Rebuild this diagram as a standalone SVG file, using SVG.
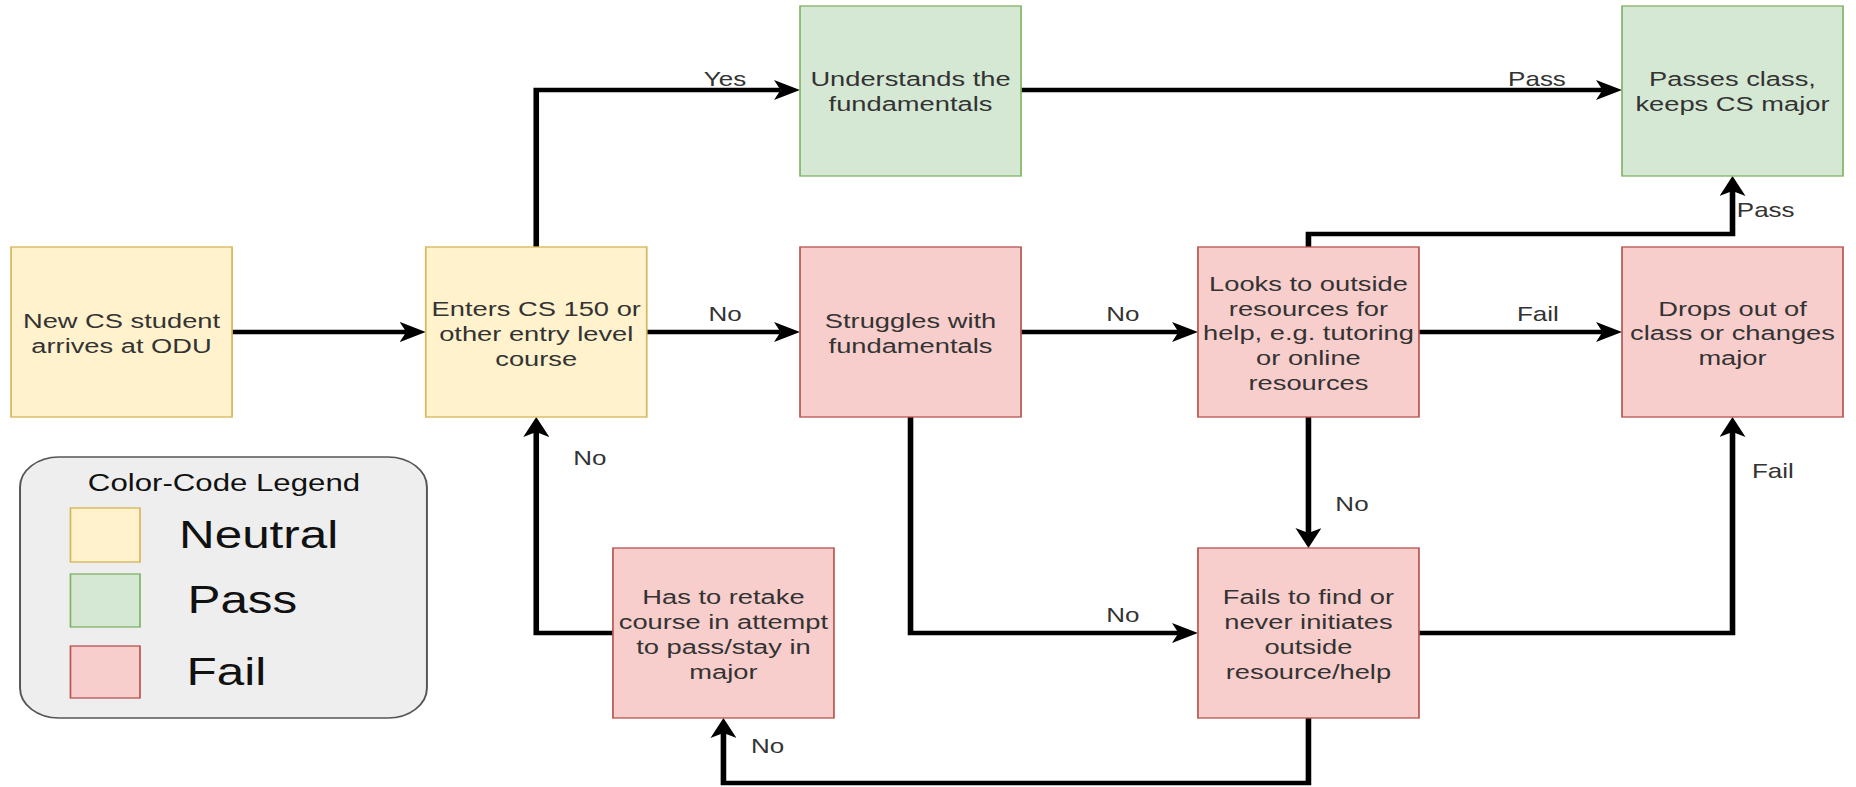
<svg xmlns="http://www.w3.org/2000/svg" width="1856" height="787" viewBox="0 0 1856 787">
<style>
.nd{stroke-width:1.3}
.y{fill:#fff2cc;stroke:#d6b656}
.g{fill:#d5e8d4;stroke:#82b366}
.r{fill:#f8cecc;stroke:#b85450}
.t{font-family:"Liberation Sans",Arial,sans-serif;font-size:21px;fill:#333;text-anchor:middle;dominant-baseline:central}
.lb{font-family:"Liberation Sans",Arial,sans-serif;font-size:20px;fill:#333;text-anchor:middle;dominant-baseline:central}
.ls{text-anchor:start}
.c{fill:none;stroke:#000;stroke-width:4.3;marker-end:url(#ah)}
.lg{font-family:"Liberation Sans",Arial,sans-serif;fill:#111;dominant-baseline:central}
</style>
<defs>
<marker id="ah" markerUnits="userSpaceOnUse" markerWidth="20" markerHeight="20" viewBox="0 0 20 20" refX="5" refY="10" orient="auto">
<path d="M0,0 L20,10 L0,20 L5,10 Z" fill="#000"/>
</marker>
</defs>
<rect width="1856" height="787" fill="#fff"/>
<g transform="scale(1.3,1)">
<g id="connectors">
<path class="c" d="M178.5,332 H312.5"/>
<path class="c" d="M412.5,247 V90 H600.4"/>
<path class="c" d="M497.5,332 H600.4"/>
<path class="c" d="M785.4,90 H1232.7"/>
<path class="c" d="M785.4,332 H906.5"/>
<path class="c" d="M1006.5,247 V234 H1332.7 V191"/>
<path class="c" d="M1091.5,332 H1232.7"/>
<path class="c" d="M1006.5,417 V533"/>
<path class="c" d="M700.4,417 V633 H906.5"/>
<path class="c" d="M1091.5,633 H1332.7 V432"/>
<path class="c" d="M1006.5,718 V783 H556.5 V733"/>
<path class="c" d="M471.5,633 H412.5 V432"/>
<text class="lb" x="557.7" y="79">Yes</text>
<text class="lb" x="557.7" y="314">No</text>
<text class="lb" x="1182.3" y="79">Pass</text>
<text class="lb" x="863.8" y="314">No</text>
<text class="lb ls" x="1336" y="210">Pass</text>
<text class="lb" x="1183" y="314">Fail</text>
<text class="lb" x="1040" y="504">No</text>
<text class="lb" x="863.8" y="615">No</text>
<text class="lb ls" x="1347.7" y="471">Fail</text>
<text class="lb ls" x="577.7" y="746">No</text>
<text class="lb" x="453.8" y="458">No</text>
</g>
<g id="n-new">
<rect class="nd y" x="8.5" y="247" width="170" height="170"/>
<text class="t" x="93.5" y="321">New CS student</text>
<text class="t" x="93.5" y="346">arrives at ODU</text>
</g>
<g id="n-enters">
<rect class="nd y" x="327.5" y="247" width="170" height="170"/>
<text class="t" x="412.5" y="309">Enters CS 150 or</text>
<text class="t" x="412.5" y="334">other entry level</text>
<text class="t" x="412.5" y="359">course</text>
</g>
<g id="n-understands">
<rect class="nd g" x="615.4" y="6" width="170" height="170"/>
<text class="t" x="700.4" y="79">Understands the</text>
<text class="t" x="700.4" y="104">fundamentals</text>
</g>
<g id="n-struggles">
<rect class="nd r" x="615.4" y="247" width="170" height="170"/>
<text class="t" x="700.4" y="321">Struggles with</text>
<text class="t" x="700.4" y="346">fundamentals</text>
</g>
<g id="n-looks">
<rect class="nd r" x="921.5" y="247" width="170" height="170"/>
<text class="t" x="1006.5" y="284">Looks to outside</text>
<text class="t" x="1006.5" y="309">resources for</text>
<text class="t" x="1006.5" y="333">help, e.g. tutoring</text>
<text class="t" x="1006.5" y="358">or online</text>
<text class="t" x="1006.5" y="383">resources</text>
</g>
<g id="n-fails">
<rect class="nd r" x="921.5" y="548" width="170" height="170"/>
<text class="t" x="1006.5" y="597">Fails to find or</text>
<text class="t" x="1006.5" y="622">never initiates</text>
<text class="t" x="1006.5" y="647">outside</text>
<text class="t" x="1006.5" y="672">resource/help</text>
</g>
<g id="n-passes">
<rect class="nd g" x="1247.7" y="6" width="170" height="170"/>
<text class="t" x="1332.7" y="79">Passes class,</text>
<text class="t" x="1332.7" y="104">keeps CS major</text>
</g>
<g id="n-drops">
<rect class="nd r" x="1247.7" y="247" width="170" height="170"/>
<text class="t" x="1332.7" y="309">Drops out of</text>
<text class="t" x="1332.7" y="333">class or changes</text>
<text class="t" x="1332.7" y="358">major</text>
</g>
<g id="n-retake">
<rect class="nd r" x="471.5" y="548" width="170" height="170"/>
<text class="t" x="556.5" y="597">Has to retake</text>
<text class="t" x="556.5" y="622">course in attempt</text>
<text class="t" x="556.5" y="647">to pass/stay in</text>
<text class="t" x="556.5" y="672">major</text>
</g>
<g id="legend">
<rect x="15.4" y="457" width="313" height="261" rx="30" ry="30" fill="#eeeeee" stroke="#555" stroke-width="1.5"/>
<text class="lg" x="172.3" y="483" font-size="24" text-anchor="middle" fill="#222">Color-Code Legend</text>
<rect class="nd y" x="54.2" y="508" width="53.5" height="54"/>
<rect class="nd g" x="54.2" y="574" width="53.5" height="53"/>
<rect class="nd r" x="54.2" y="646" width="53.5" height="52"/>
<text class="lg" x="137.7" y="535" font-size="38">Neutral</text>
<text class="lg" x="144.2" y="600" font-size="38">Pass</text>
<text class="lg" x="143.5" y="672" font-size="38">Fail</text>
</g>
</g>
</svg>
